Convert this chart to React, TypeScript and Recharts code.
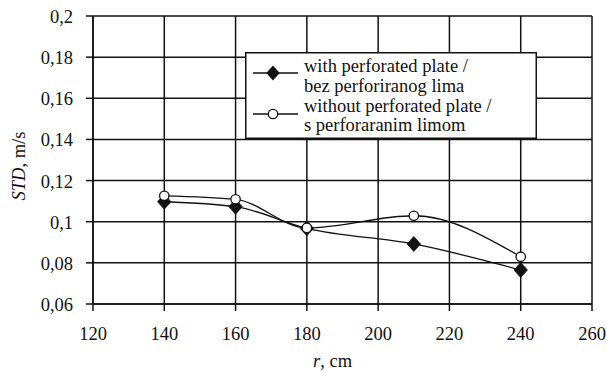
import React from "react";
import { LineChart, Line, XAxis, YAxis, CartesianGrid, Legend, Label } from "recharts";

const radii = [140, 160, 180, 210, 240];
const withPlate = [0.1097, 0.1073, 0.0968, 0.0892, 0.0765];
const withoutPlate = [0.1126, 0.1109, 0.097, 0.1029, 0.083];
const xTicks = [120, 140, 160, 180, 200, 220, 240, 260];
const yTicks = [0.06, 0.08, 0.1, 0.12, 0.14, 0.16, 0.18, 0.2];
const seriesNames = [
  ["with perforated plate /", "bez perforiranog lima"],
  ["without perforated plate /", "s perforaranim limom"],
];

const data = radii.map((r, i) => ({ r, a: withPlate[i], b: withoutPlate[i] }));

const FONT = "'Liberation Serif', 'Times New Roman', serif";
const INK = "#111";
const FS = 18.5;
const TXT = { fontFamily: FONT, fontSize: FS };

const fmtY = (v: number) => {
  const s = parseFloat(v.toFixed(2)).toString();
  return s.replace(".", ",");
};

const XTick = (props: any) => {
  const { x, y, payload } = props;
  return (
    <text x={x} y={y + 27} textAnchor="middle" style={TXT} fill={INK}>
      {payload.value}
    </text>
  );
};

const YTick = (props: any) => {
  const { x, y, payload } = props;
  return (
    <text x={x - 11} y={y + 7} textAnchor="end" style={TXT} fill={INK}>
      {fmtY(payload.value)}
    </text>
  );
};

const Diamond = (props: any) => {
  const { cx, cy } = props;
  if (cx == null || cy == null) return null;
  return (
    <polygon
      points={`${cx},${cy - 7.5} ${cx + 6.7},${cy} ${cx},${cy + 7.5} ${cx - 6.7},${cy}`}
      fill={INK}
      stroke={INK}
      strokeWidth={0.8}
    />
  );
};

const Circle = (props: any) => {
  const { cx, cy } = props;
  if (cx == null || cy == null) return null;
  return <circle cx={cx} cy={cy} r={4.7} fill="#fff" stroke={INK} strokeWidth={1.3} />;
};

const LegendBox = () => {
  const w = 292;
  const h = 87;
  const lines = [seriesNames[0][0], seriesNames[0][1], seriesNames[1][0], seriesNames[1][1]];
  const baselines = [19.7, 39.7, 59.7, 78.7];
  return (
    <svg width={w} height={h} style={{ display: "block" }}>
      <rect x={0.75} y={0.75} width={w - 1.5} height={h - 1.5} fill="#fff" stroke={INK} strokeWidth={1.5} />
      <line x1={8} x2={53} y1={21} y2={21} stroke={INK} strokeWidth={1.3} />
      <polygon points={`28,13.5 34.7,21 28,28.5 21.3,21`} fill={INK} />
      <line x1={8} x2={53} y1={62} y2={62} stroke={INK} strokeWidth={1.3} />
      <circle cx={28} cy={62} r={4.7} fill="#fff" stroke={INK} strokeWidth={1.3} />
      {lines.map((t, i) => (
        <text key={i} x={59} y={baselines[i]} style={TXT} fill={INK}>
          {t}
        </text>
      ))}
    </svg>
  );
};

const YLabel = (props: any) => {
  const vb = props.viewBox || { x: 0, y: 16, width: 93, height: 288 };
  const x = vb.x + 25;
  const y = vb.y + vb.height / 2 + 6;
  return (
    <text
      x={x}
      y={y}
      transform={`rotate(-90, ${x}, ${y})`}
      textAnchor="middle"
      style={TXT}
      fill={INK}
    >
      <tspan fontStyle="italic">STD</tspan>
      <tspan>, m/s</tspan>
    </text>
  );
};

const XLabel = (props: any) => {
  const vb = props.viewBox || { x: 93, y: 304, width: 499, height: 30 };
  const x = vb.x + vb.width / 2 - 10;
  const y = vb.y + 63;
  return (
    <text x={x} y={y} textAnchor="middle" style={TXT} fill={INK}>
      <tspan fontStyle="italic">r</tspan>
      <tspan>, cm</tspan>
    </text>
  );
};

export default function App() {
  return (
    <div style={{ position: "absolute", left: 0, top: 0, background: "#fff", fontFamily: FONT }}>
      <LineChart
        width={607}
        height={372}
        data={data}
        margin={{ top: 16, right: 15, left: 0, bottom: 38 }}
      >
        <CartesianGrid stroke={INK} strokeWidth={1.5} horizontalValues={yTicks} verticalValues={xTicks} />
        <XAxis
          dataKey="r"
          type="number"
          domain={[120, 260]}
          ticks={xTicks}
          height={30}
          tickSize={7}
          tickLine={{ stroke: INK, strokeWidth: 1.5 }}
          axisLine={{ stroke: INK, strokeWidth: 1.5 }}
          tick={<XTick />}
          interval={0}
        >
          <Label content={<XLabel />} />
        </XAxis>
        <YAxis
          type="number"
          domain={[0.06, 0.2]}
          ticks={yTicks}
          width={93}
          tickSize={7}
          tickLine={{ stroke: INK, strokeWidth: 1.5 }}
          axisLine={{ stroke: INK, strokeWidth: 1.5 }}
          tick={<YTick />}
          interval={0}
        >
          <Label content={<YLabel />} />
        </YAxis>
        <Legend
          layout="vertical"
          align="center"
          verticalAlign="middle"
          content={<LegendBox />}
          wrapperStyle={{ left: 245, top: 52, width: 292, height: 87 }}
        />
        <Line
          type="monotone"
          dataKey="a"
          stroke={INK}
          strokeWidth={1.3}
          dot={<Diamond />}
          isAnimationActive={false}
        />
        <Line
          type="monotone"
          dataKey="b"
          stroke={INK}
          strokeWidth={1.3}
          dot={<Circle />}
          isAnimationActive={false}
        />
      </LineChart>
    </div>
  );
}
